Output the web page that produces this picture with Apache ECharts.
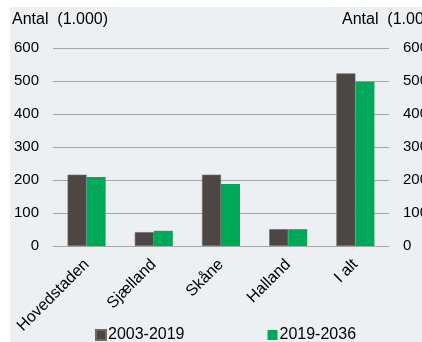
<!DOCTYPE html>
<html>
<head>
<meta charset="utf-8">
<script src="https://cdn.jsdelivr.net/npm/echarts@6/dist/echarts.min.js"></script>
<style>
html,body{margin:0;padding:0;background:#fff;}
#chart{width:422px;height:342px;}
</style>
</head>
<body>
<div id="chart"></div>
<script>
// Regions and population figures (in thousands)
const regions = ['Hovedstaden', 'Sjælland', 'Skåne', 'Halland', 'I alt'];
const period1Name = '2003-2019';
const period2Name = '2019-2036';
const period1 = [216, 42, 216, 51, 523];
const period2 = [209, 46, 188, 51, 498];
const yTicks = [0, 100, 200, 300, 400, 500, 600];
const axisTitle = 'Antal  (1.000)';

const FONT = '"Liberation Sans", Arial, sans-serif';
const TEXT = '#000';
const GRID = '#A6A6A6';

const chart = echarts.init(document.getElementById('chart'), null, {renderer: 'canvas'});

const valueAxis = (pos) => ({
  type: 'value',
  position: pos,
  min: yTicks[0],
  max: yTicks[yTicks.length - 1],
  interval: yTicks[1] - yTicks[0],
  axisLine: {show: false},
  axisTick: {show: false},
  splitLine: {show: pos === 'left', lineStyle: {color: GRID, width: 1}},
  axisLabel: {
    color: TEXT, fontFamily: FONT, fontSize: 15,
    margin: 14,
    align: pos === 'left' ? 'right' : 'left'
  }
});

chart.setOption({
  animation: false,
  backgroundColor: 'transparent',
  graphic: [
    {type: 'rect', z: -10, shape: {x: 10, y: 7, width: 412, height: 335}, style: {fill: '#ECF0F3'}},
    {type: 'text', left: 12, top: 12, style: {text: axisTitle, font: '16px ' + FONT, fill: TEXT}},
    {type: 'text', left: 342, top: 12, style: {text: axisTitle, font: '16px ' + FONT, fill: TEXT}}
  ],
  grid: {left: 53, right: 33, top: 48, bottom: 96, containLabel: false, outerBoundsMode: 'none'},
  legend: {
    bottom: -6,
    left: 90,
    itemGap: 83,
    itemWidth: 10,
    itemHeight: 10,
    icon: 'rect',
    textStyle: {color: TEXT, fontFamily: FONT, fontSize: 16, padding: [0, 0, 0, -3]},
    data: [period1Name, period2Name]
  },
  xAxis: {
    type: 'category',
    data: regions,
    axisLine: {show: true, lineStyle: {color: GRID, width: 1}},
    axisTick: {show: false},
    axisLabel: {
      color: TEXT, fontFamily: FONT, fontSize: 16,
      rotate: 45, margin: 16, interval: 0
    }
  },
  yAxis: [valueAxis('left'), valueAxis('right')],
  series: [
    {
      name: period1Name, type: 'bar', data: period1,
      barWidth: 19, barGap: '0%',
      itemStyle: {color: '#4C4744', borderColor: '#6E6A68', borderWidth: 0.6}
    },
    {
      name: period2Name, type: 'bar', data: period2,
      barWidth: 19,
      itemStyle: {color: '#00A85A'}
    }
  ]
});
</script>
</body>
</html>
